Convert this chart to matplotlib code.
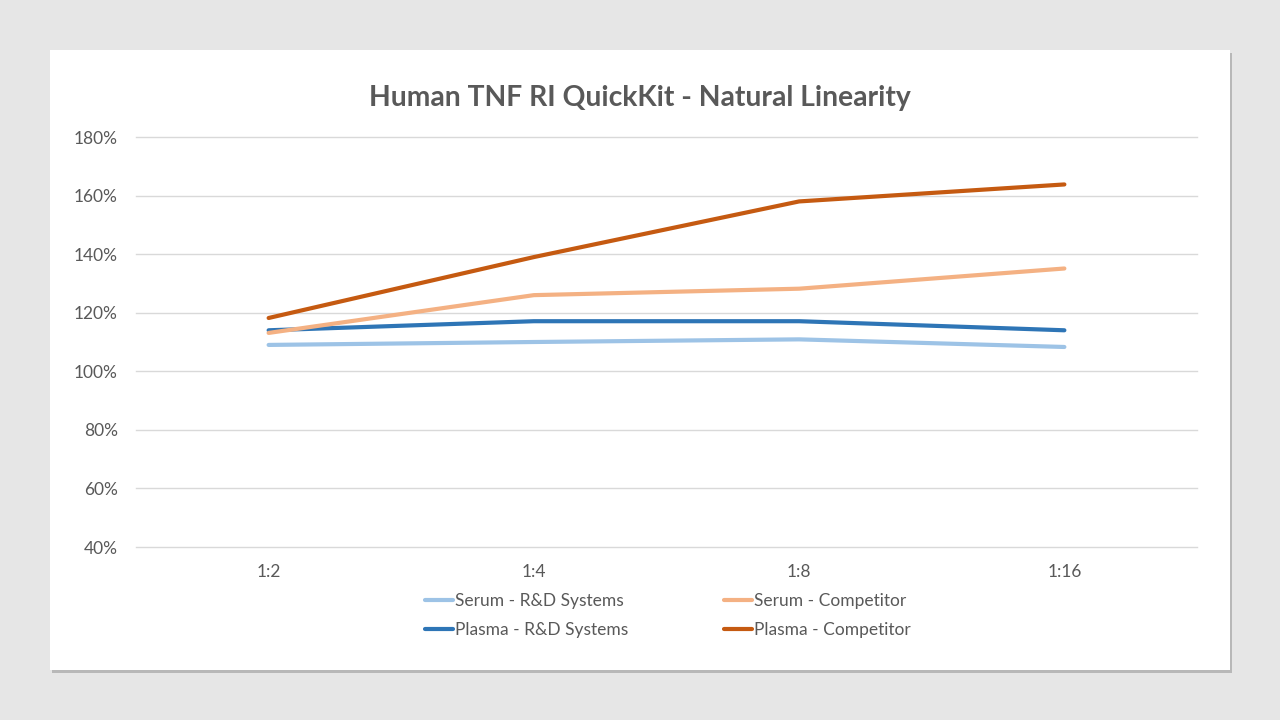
import matplotlib
matplotlib.use("Agg")
import matplotlib.pyplot as plt
from matplotlib.patches import Rectangle

categories = ["1:2", "1:4", "1:8", "1:16"]
serum_rd = [109.0, 110.0, 110.9, 108.3]
plasma_rd = [114.0, 117.1, 117.1, 114.0]
serum_comp = [113.1, 126.0, 128.2, 135.1]
plasma_comp = [118.2, 139.0, 158.0, 163.8]
yticks = [40, 60, 80, 100, 120, 140, 160, 180]
title = "Human TNF RI QuickKit - Natural Linearity"

plt.rcParams['font.family'] = ['Lato', 'DejaVu Sans']
txt = "#595959"

W, H = 1280, 720
fig = plt.figure(figsize=(12.8, 7.2), dpi=100, facecolor="#e6e6e6")

# shadow + white panel
fig.patches.append(Rectangle((52 / W, (720 - 673) / H), 1180 / W, 620 / H,
                             transform=fig.transFigure, facecolor="#b8b8b8",
                             edgecolor="none", zorder=-2))
fig.patches.append(Rectangle((50 / W, 50 / H), 1180 / W, 620 / H,
                             transform=fig.transFigure, facecolor="white",
                             edgecolor="none", zorder=-1))

ax = fig.add_axes([136 / W, (720 - 547) / H, (1197 - 136) / W, (547 - 137) / H])
ax.set_zorder(2)
ax.set_facecolor("none")
x = range(len(categories))
series = [
    ("Serum - R&D Systems", serum_rd, "#9dc3e6"),
    ("Plasma - R&D Systems", plasma_rd, "#2e75b6"),
    ("Serum - Competitor", serum_comp, "#f4b183"),
    ("Plasma - Competitor", plasma_comp, "#c55a11"),
]
for label, vals, c in series:
    ax.plot(x, vals, color=c, lw=3.0, label=label, solid_capstyle="round",
            solid_joinstyle="round", zorder=3)

ax.set_xlim(-0.5, len(categories) - 0.5)
ax.set_ylim(40, 180)
ax.set_yticks(yticks)
ax.set_yticklabels([f"{v}%" for v in yticks])
ax.set_xticks(list(x))
ax.set_xticklabels(categories)
ax.grid(axis="y", color="#d9d9d9", lw=1.0)
for gl in ax.get_ygridlines():
    gl.set_clip_on(False)
ax.set_axisbelow(True)
for s in ax.spines.values():
    s.set_visible(False)
ax.tick_params(axis="both", length=0, labelsize=12.5, colors=txt)
ax.tick_params(axis="y", pad=13)
ax.tick_params(axis="x", pad=12)

fig.text(640 / W, (720 - 98) / H, title, ha="center", va="center",
         fontsize=20.3, fontweight="bold", color=txt, zorder=3)

leg = fig.legend(loc="center", bbox_to_anchor=(668 / W, (720 - 615.5) / H), ncol=2,
                 frameon=False, fontsize=12.5, handlelength=1.6, handletextpad=0.15,
                 columnspacing=5.5, labelspacing=0.78)
leg.set_zorder(3)
for t in leg.get_texts():
    t.set_color(txt)

fig.savefig("out.png", dpi=100, facecolor=fig.get_facecolor())
